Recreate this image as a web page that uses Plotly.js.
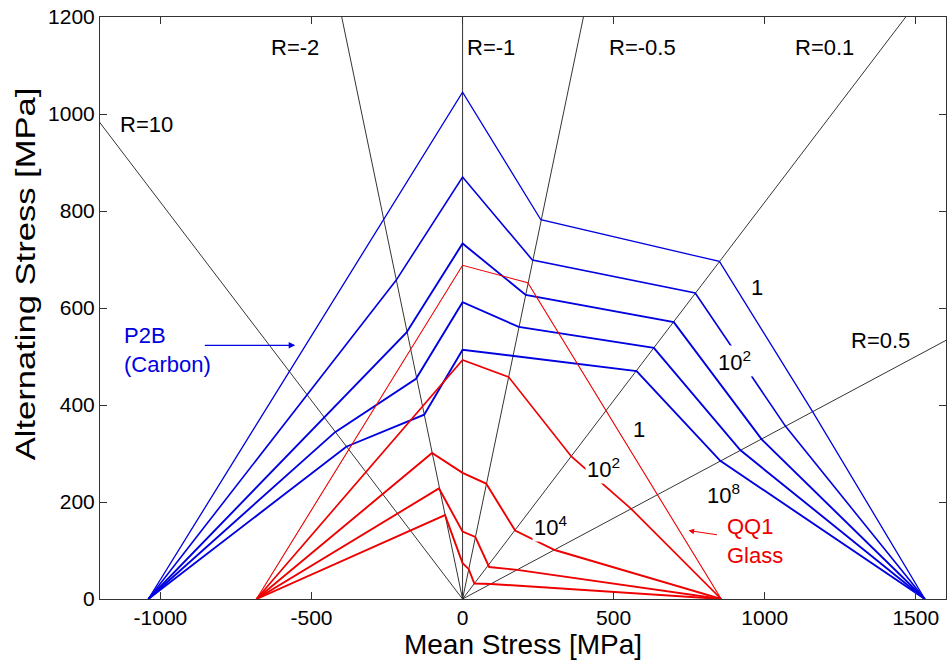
<!DOCTYPE html>
<html>
<head>
<meta charset="utf-8">
<script src="https://cdn.plot.ly/plotly-3.0.1.min.js"></script>
<style>html,body{margin:0;padding:0;background:#fff}#chart{width:947px;height:668px}</style>
</head>
<body>
<div id="chart"></div>
<script>
// ---- data ----
// Stress ratios of the radial reference lines
const rRatios = [10, -2, -1, -0.5, 0.1, 0.5];
const rLabels = ['R=10', 'R=-2', 'R=-1', 'R=-0.5', 'R=0.1', 'R=0.5'];
const rLabelX = [-1045, -555, 94, 594, 1199, 1384];
const rLabelY = [979, 1137, 1137, 1137, 1137, 533];

// P2B (Carbon) constant life lines
const p2b1Mean = [-1040, 0, 259, 850, 1158, 1530];
const p2b1Amp  = [0, 1045, 782, 696, 387, 0];
const p2b2Mean = [-1040, -220, 0, 231, 770, 1069, 1530];
const p2b2Amp  = [0, 657, 870, 699, 631, 356, 0];
const p2b3Mean = [-1040, -186, 0, 209, 699, 990, 1530];
const p2b3Amp  = [0, 549, 733, 627, 571, 329, 0];
const p2b4Mean = [-1040, -422, -154, 0, 186, 633, 919, 1530];
const p2b4Amp  = [0, 344, 454, 612, 561, 518, 307, 0];
const p2b5Mean = [-1040, -385, -127, 0, 170, 576, 853, 1530];
const p2b5Amp  = [0, 314, 380, 514, 501, 470, 285, 0];

// QQ1 (Glass) constant life lines
const qq11Mean = [-682, 0, 216, 856];
const qq11Amp  = [0, 688, 652, 0];
const qq12Mean = [-682, -133, 0, 152, 360, 558, 856];
const qq12Amp  = [0, 398, 493, 458, 294, 186, 0];
const qq13Mean = [-682, -101, 0, 78, 174, 305, 856];
const qq13Amp  = [0, 301, 260, 238, 141, 101, 0];
const qq14Mean = [-682, -78, 0, 42, 88, 181, 856];
const qq14Amp  = [0, 228, 139, 128, 66, 60, 0];
const qq15Mean = [-682, -58, 0, 20, 39, 95, 856];
const qq15Amp  = [0, 173, 74, 62, 32, 31, 0];

const xTicks = [-1000, -500, 0, 500, 1000, 1500];
const yTicks = [0, 200, 400, 600, 800, 1000, 1200];

// cycle labels
const cycleText  = ['1', '10<sup>2</sup>', '10<sup>8</sup>', '1', '10<sup>2</sup>', '10<sup>4</sup>'];
const cycleX     = [974, 900, 862, 583, 466, 290];
const cycleY     = [643, 490, 216, 350, 271, 151];

// ---- traces ----
const BLUE = '#0000e0', RED = '#ee0000';
const traces = [];
const far = 3000;
rRatios.forEach(R => {
  const amp = far;
  const mean = amp * (1 + R) / (1 - R);
  traces.push({x: [0, mean], y: [0, amp], mode: 'lines', type: 'scatter',
    line: {color: 'black', width: 0.8}, hoverinfo: 'skip', showlegend: false});
});
const blue = [[p2b1Mean, p2b1Amp, 1.3], [p2b2Mean, p2b2Amp, 1.6], [p2b3Mean, p2b3Amp, 1.9],
              [p2b4Mean, p2b4Amp, 1.9], [p2b5Mean, p2b5Amp, 1.9]];
blue.forEach(c => traces.push({x: c[0], y: c[1], mode: 'lines', type: 'scatter',
  line: {color: BLUE, width: c[2]}, showlegend: false}));
const red = [[qq11Mean, qq11Amp, 1.1], [qq12Mean, qq12Amp, 1.7], [qq13Mean, qq13Amp, 1.9],
             [qq14Mean, qq14Amp, 1.9], [qq15Mean, qq15Amp, 1.9]];
red.forEach(c => traces.push({x: c[0], y: c[1], mode: 'lines', type: 'scatter',
  line: {color: RED, width: c[2]}, showlegend: false}));

// ---- annotations ----
const FONT = 'Arial, Liberation Sans, Helvetica, sans-serif';
const ann = [];
rLabels.forEach((t, i) => ann.push({x: rLabelX[i], y: rLabelY[i], text: t, showarrow: false,
  font: {family: FONT, size: 22, color: 'black'}}));
cycleText.forEach((t, i) => ann.push({x: cycleX[i], y: cycleY[i], text: t, showarrow: false,
  bgcolor: 'white', font: {family: FONT, size: 22, color: 'black'}}));
ann.push({x: -1128, y: 513, text: 'P2B<br>(Carbon)', showarrow: false, xanchor: 'left',
  align: 'left', font: {family: FONT, size: 22, color: BLUE}});
ann.push({x: 869, y: 119, text: 'QQ1<br>Glass', showarrow: false, xanchor: 'left',
  align: 'left', font: {family: FONT, size: 22, color: RED}});
ann.push({x: -554, y: 523, ax: -858, ay: 523, axref: 'x', ayref: 'y', text: '', showarrow: true,
  arrowhead: 2, arrowsize: 1, arrowwidth: 1.3, arrowcolor: BLUE});
ann.push({x: 748, y: 141, ax: 847, ay: 132, axref: 'x', ayref: 'y', text: '', showarrow: true,
  arrowhead: 2, arrowsize: 1, arrowwidth: 1.1, arrowcolor: RED});

const axisCommon = {
  showline: true, linecolor: '#333', linewidth: 1, mirror: 'ticks',
  ticks: 'inside', ticklen: 7, tickcolor: '#333', showgrid: false, zeroline: false,
  tickfont: {family: FONT, size: 21, color: 'black'}
};
const layout = {
  width: 947, height: 668,
  margin: {l: 100, r: 1, t: 17, b: 69},
  paper_bgcolor: 'white', plot_bgcolor: 'white',
  xaxis: Object.assign({}, axisCommon, {range: [-1200, 1600], tickvals: xTicks,
    ticktext: xTicks.map(String),
    title: {text: 'Mean Stress [MPa]', font: {family: FONT, size: 28, color: 'black'}, standoff: 5}}),
  yaxis: Object.assign({}, axisCommon, {range: [0, 1200], tickvals: yTicks,
    ticktext: yTicks.map(String),
    title: {text: 'Alternating Stress [MPa]', font: {family: FONT, size: 27, color: 'black'}, standoff: 4}}),
  annotations: ann,
  showlegend: false
};
Plotly.newPlot('chart', traces, layout, {staticPlot: true, displayModeBar: false}).then(gd => {
  // the reference's y-axis title is drawn longer and a little higher than the axis centre
  const t = gd.querySelector('.ytitle');
  if (t) {
    const x = +t.getAttribute('x'), y = +t.getAttribute('y');
    t.setAttribute('transform',
      `rotate(-90,${x},${y}) translate(${x + 34},${y}) scale(1.28,1) translate(${-x},${-y})`);
  }
});
</script>
</body>
</html>
